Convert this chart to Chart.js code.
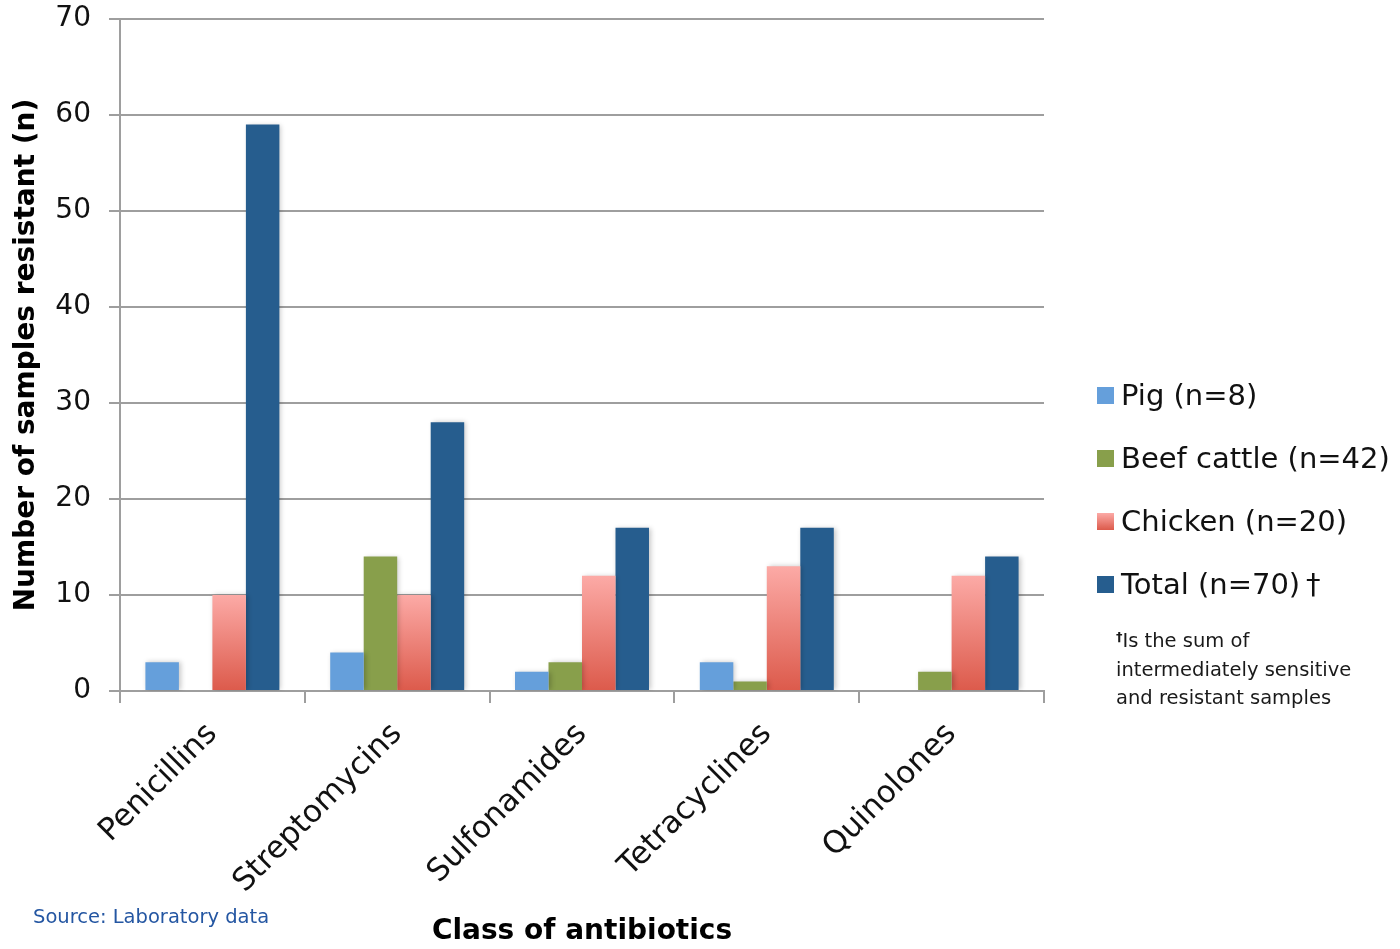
<!DOCTYPE html>
<html>
<head>
<meta charset="utf-8">
<script src="https://cdn.jsdelivr.net/npm/chart.js@4/dist/chart.umd.min.js"></script>
<style>
  html, body { margin: 0; padding: 0; background: #fff; }
  #wrap { position: relative; width: 1400px; height: 949px; overflow: hidden; }
  #c { position: absolute; left: 0; top: 0; }
  .legend { position: absolute; left: 1097px; top: 0; font-family: "DejaVu Sans", sans-serif; }
  .item { position: absolute; left: 0; white-space: nowrap; font-size: 29px; color: #111; line-height: 34px; height: 34px; }
  .sw { position: absolute; left: 0; top: 9px; width: 17px; height: 17px; }
  .lbl { position: absolute; left: 24px; top: 0; }
  .note { position: absolute; left: 1116px; top: 627px; font-family: "DejaVu Sans", sans-serif; font-size: 19.5px; line-height: 28.5px; color: #1a1a1a; white-space: nowrap; }
  .note sup { font-size: 13px; font-weight: bold; vertical-align: 6px; line-height: 0; }
  .src { position: absolute; left: 33px; top: 905px; font-family: "DejaVu Sans", sans-serif; font-size: 19.5px; color: #2456a2; white-space: nowrap; }
</style>
</head>
<body>
<div id="wrap">
  <canvas id="c" width="1400" height="949"></canvas>
  <div class="legend" id="legend"></div>
  <div class="note"><sup>†</sup>Is the sum of<br>intermediately sensitive<br>and resistant samples</div>
  <div class="src">Source: Laboratory data</div>
</div>
<script>
// Antibiotic classes on the x axis
const classes = ["Penicillins", "Streptomycins", "Sulfonamides", "Tetracyclines", "Quinolones"];

// Number of resistant samples per source
const pig = [3, 4, 2, 3, 0];
const beefCattle = [0, 14, 3, 1, 2];
const chicken = [10, 10, 12, 13, 12];
const total = [59, 28, 17, 17, 14];

const seriesNames = ["Pig (n=8)", "Beef cattle (n=42)", "Chicken (n=20)", "Total (n=70)\u2009\u2020"];
const yTicks = [0, 10, 20, 30, 40, 50, 60, 70];

const FONT = '"DejaVu Sans", sans-serif';
const GRID = '#9e9e9e';

// vertical pink-to-red fill used by the chicken bars
function chickenFill(ctx) {
  const chart = ctx.chart;
  const y = chart.scales && chart.scales.y;
  if (!y || ctx.raw == null || !isFinite(y.getPixelForValue(0))) return '#ec8a82';
  const top = y.getPixelForValue(ctx.raw);
  const bottom = y.getPixelForValue(0);
  const g = chart.ctx.createLinearGradient(0, top, 0, bottom);
  g.addColorStop(0, '#fcaaa6');
  g.addColorStop(1, '#dc5a4b');
  return g;
}

// soft drop shadow behind the bars
const barShadow = {
  id: 'barShadow',
  beforeDatasetsDraw(chart) {
    const c = chart.ctx;
    c.save();
    c.shadowColor = 'rgba(0,0,0,0.22)';
    c.shadowBlur = 5;
    c.shadowOffsetX = 2;
    c.shadowOffsetY = 0;
  },
  afterDatasetsDraw(chart) {
    chart.ctx.restore();
  }
};

const colors = ['#659fdb', '#889f4b', chickenFill, '#265d8e'];
const swatch = ['#659fdb', '#889f4b', 'linear-gradient(#fcaaa6, #dc5a4b)', '#265d8e'];
const values = [pig, beefCattle, chicken, total];

const chart = new Chart(document.getElementById('c'), {
  type: 'bar',
  data: {
    labels: classes,
    datasets: values.map((v, i) => ({
      label: seriesNames[i],
      data: v,
      backgroundColor: colors[i],
      borderWidth: 0,
      barPercentage: 1,
      categoryPercentage: 0.725
    }))
  },
  plugins: [barShadow],
  options: {
    responsive: false,
    animation: false,
    devicePixelRatio: 1,
    layout: { padding: { left: 0, right: 356, top: 19, bottom: 0 } },
    plugins: {
      legend: { display: false },
      tooltip: { enabled: false }
    },
    scales: {
      x: {
        offset: true,
        border: { display: true, color: GRID, width: 2 },
        grid: { display: true, drawOnChartArea: false, drawTicks: true, tickLength: 12, color: GRID, lineWidth: 2, offset: true },
        ticks: {
          color: '#111',
          font: { family: FONT, size: 31 },
          minRotation: 45, maxRotation: 45,
          autoSkip: false,
          padding: 13
        },
        title: {
          display: true,
          text: 'Class of antibiotics',
          color: '#000',
          font: { family: FONT, size: 28, weight: 'bold' },
          padding: { top: 0, bottom: 0 }
        },
        afterFit(scale) { scale.height = 258; scale.paddingLeft = 0; scale.paddingRight = 0; }
      },
      y: {
        min: 0, max: 70,
        afterBuildTicks(scale) { scale.ticks = yTicks.map(v => ({ value: v })); },
        border: { display: true, color: GRID, width: 2 },
        grid: { color: GRID, lineWidth: 2, tickLength: 11, drawTicks: true },
        ticks: {
          color: '#111',
          font: { family: FONT, size: 28 },
          padding: 18
        },
        title: {
          display: true,
          text: 'Number of samples resistant (n)',
          color: '#000',
          font: { family: FONT, size: 28, weight: 'bold' },
          padding: { top: 10, bottom: 0 }
        },
        afterFit(scale) { scale.width = 120; scale.paddingTop = 0; scale.paddingBottom = 0; }
      }
    }
  }
});

// legend on the right
const legend = document.getElementById('legend');
const centers = [395, 458, 521, 584];
seriesNames.forEach((name, i) => {
  const it = document.createElement('div');
  it.className = 'item';
  it.style.top = (centers[i] - 17) + 'px';
  const sw = document.createElement('div');
  sw.className = 'sw';
  sw.style.background = swatch[i];
  const lb = document.createElement('div');
  lb.className = 'lbl';
  lb.textContent = name;
  it.appendChild(sw);
  it.appendChild(lb);
  legend.appendChild(it);
});
</script>
</body>
</html>
